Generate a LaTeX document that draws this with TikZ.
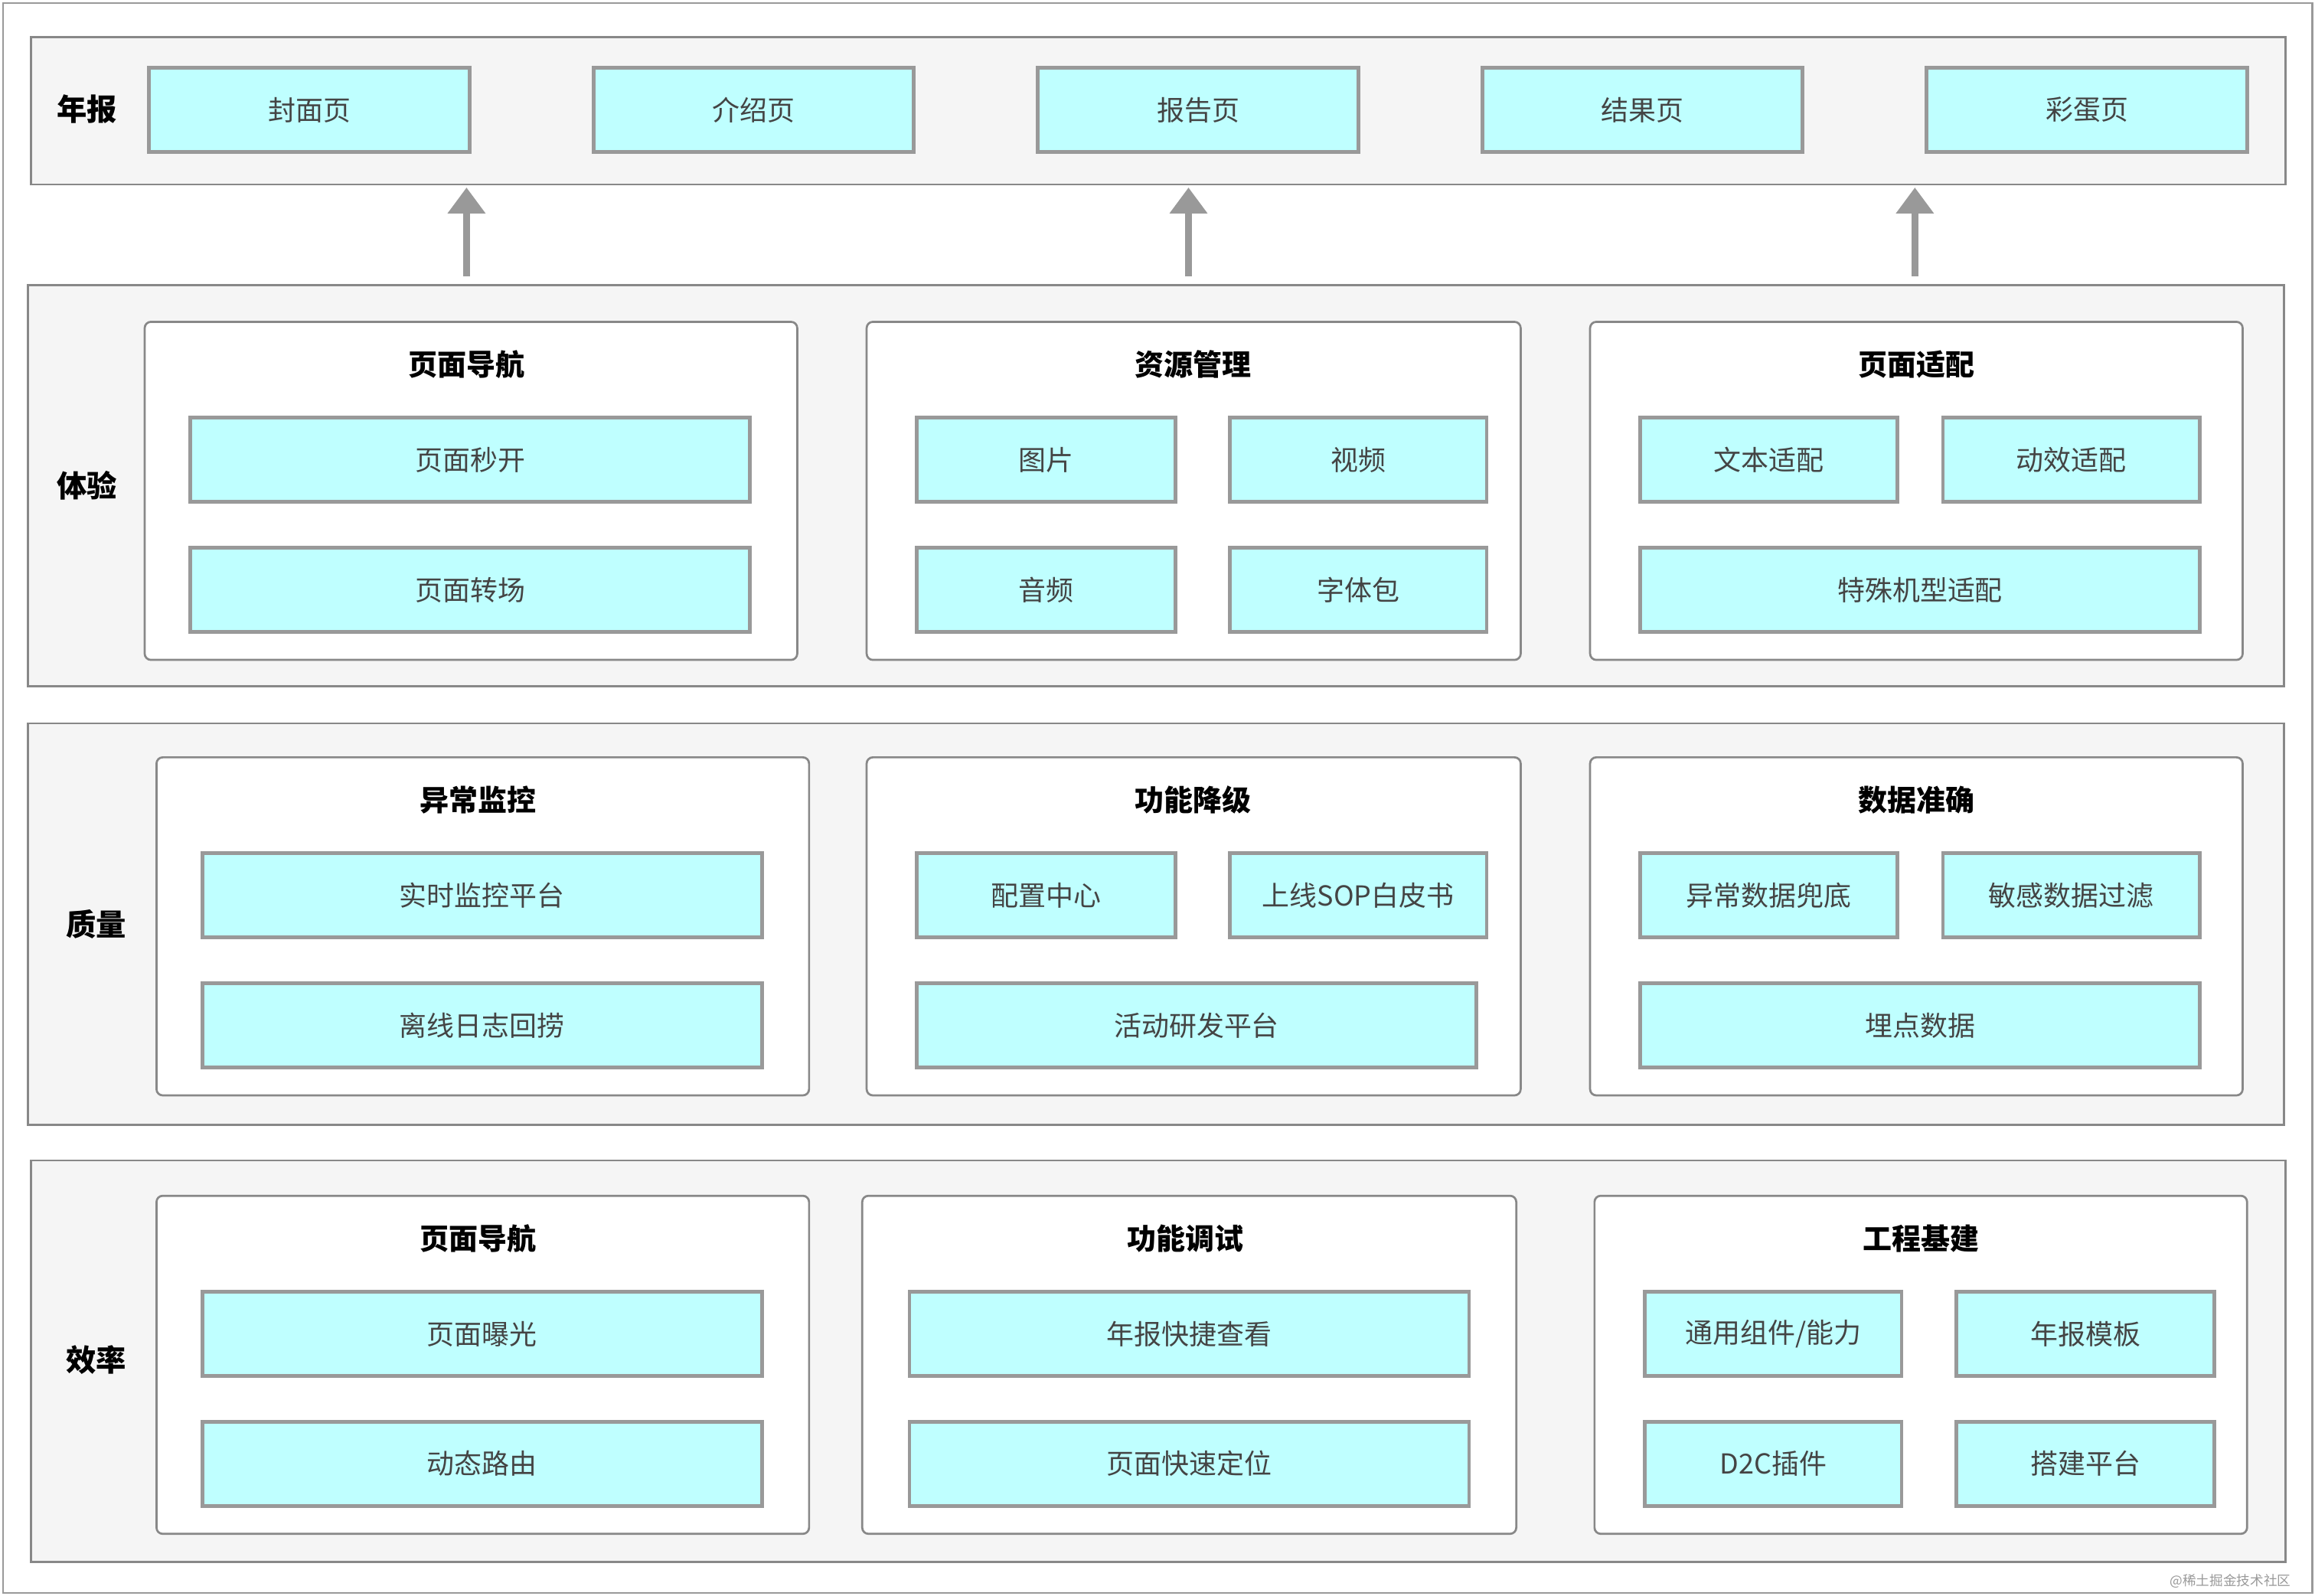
\documentclass[tikz,border=0pt]{standalone}
\usepackage{fontspec}
\setmainfont{Noto Sans CJK SC}
\usetikzlibrary{arrows.meta}

\definecolor{cellfill}{HTML}{BFFFFF}
\definecolor{cellline}{HTML}{999999}
\definecolor{layerfill}{HTML}{F5F5F5}
\definecolor{layerline}{HTML}{888888}
\definecolor{textgray}{HTML}{444444}

\tikzset{
  cell/.style={draw=cellline,fill=cellfill,line width=0.7pt,inner sep=0pt,
    text=textgray,font=\fontsize{5.3}{6}\selectfont},
  layer/.style={draw=layerline,fill=layerfill,line width=0.4pt,inner sep=0pt},
  group/.style={draw=layerline,fill=white,rounded corners=1.2pt,line width=0.4pt,inner sep=0pt},
  grouptitle/.style={font=\fontsize{5.6}{6}\selectfont\bfseries},
  layertitle/.style={font=\fontsize{5.8}{6}\selectfont\bfseries},
  uparrow/.style={draw=cellline,line width=1.4pt,-{Triangle[length=5pt,width=7pt]}}
}

% box from corner (x1,y1) to (x2,y2), in reference pixels
\newcommand{\pixbox}[7]{%
  \node[#1,minimum width={(#5-#3)*0.01cm},minimum height={(#6-#4)*0.01cm}]
    (#2) at ({(#3+#5)/2},{(#4+#6)/2}) {#7};}

\begin{document}
\begin{tikzpicture}[x=0.01cm,y=-0.01cm]
\useasboundingbox (0,0) rectangle (1568,1081);
\draw[draw=cellline,line width=0.4pt] (2,2) rectangle (1566,1079);

% 年报
\pixbox{layer}{annual}{21}{25}{1548}{125}{}
\node[layertitle] (annualT) at (59,74) {年报};
\pixbox{cell}{cover}{101}{46}{318}{103}{封面页}
\pixbox{cell}{intro}{402}{46}{619}{103}{介绍页}
\pixbox{cell}{report}{703}{46}{920}{103}{报告页}
\pixbox{cell}{result}{1004}{46}{1221}{103}{结果页}
\pixbox{cell}{egg}{1305}{46}{1522}{103}{彩蛋页}

% arrows
\coordinate (a1s) at (316,187); \coordinate (a1e) at (316,127);
\coordinate (a2s) at (805,187); \coordinate (a2e) at (805,127);
\coordinate (a3s) at (1297,187); \coordinate (a3e) at (1297,127);
\draw[uparrow] (a1s) -- (a1e);
\draw[uparrow] (a2s) -- (a2e);
\draw[uparrow] (a3s) -- (a3e);

% 体验
\pixbox{layer}{exp}{19}{193}{1547}{465}{}
\node[layertitle] (expT) at (59,329) {体验};
\pixbox{group}{nav}{98}{218}{540}{447}{}
\node[grouptitle] (navT) at (316,247) {页面导航};
\pixbox{cell}{fastopen}{129}{283}{508}{340}{页面秒开}
\pixbox{cell}{transit}{129}{371}{508}{428}{页面转场}
\pixbox{group}{res}{587}{218}{1030}{447}{}
\node[grouptitle] (resT) at (808,247) {资源管理};
\pixbox{cell}{img}{621}{283}{796}{340}{图片}
\pixbox{cell}{video}{833}{283}{1007}{340}{视频}
\pixbox{cell}{audio}{621}{371}{796}{428}{音频}
\pixbox{cell}{fontpkg}{833}{371}{1007}{428}{字体包}
\pixbox{group}{adapt}{1077}{218}{1519}{447}{}
\node[grouptitle] (adaptT) at (1298,247) {页面适配};
\pixbox{cell}{txtad}{1111}{283}{1285}{340}{文本适配}
\pixbox{cell}{animad}{1316}{283}{1490}{340}{动效适配}
\pixbox{cell}{devad}{1111}{371}{1490}{428}{特殊机型适配}

% 质量
\pixbox{layer}{qual}{19}{490}{1547}{762}{}
\node[layertitle] (qualT) at (65,626) {质量};
\pixbox{group}{mon}{106}{513}{548}{742}{}
\node[grouptitle] (monT) at (324,542) {异常监控};
\pixbox{cell}{rtmon}{137}{578}{516}{635}{实时监控平台}
\pixbox{cell}{offlog}{137}{666}{516}{723}{离线日志回捞}
\pixbox{group}{degr}{587}{513}{1030}{742}{}
\node[grouptitle] (degrT) at (808,542) {功能降级};
\pixbox{cell}{cfg}{621}{578}{796}{635}{配置中心}
\pixbox{cell}{sop}{833}{578}{1007}{635}{上线SOP白皮书}
\pixbox{cell}{actdev}{621}{666}{1000}{723}{活动研发平台}
\pixbox{group}{data}{1077}{513}{1519}{742}{}
\node[grouptitle] (dataT) at (1298,542) {数据准确};
\pixbox{cell}{fallback}{1111}{578}{1285}{635}{异常数据兜底}
\pixbox{cell}{filter}{1316}{578}{1490}{635}{敏感数据过滤}
\pixbox{cell}{track}{1111}{666}{1490}{723}{埋点数据}

% 效率
\pixbox{layer}{eff}{21}{786}{1548}{1058}{}
\node[layertitle] (effT) at (65,921) {效率};
\pixbox{group}{nav2}{106}{810}{548}{1039}{}
\node[grouptitle] (nav2T) at (324,839) {页面导航};
\pixbox{cell}{expose}{137}{875}{516}{932}{页面曝光}
\pixbox{cell}{route}{137}{963}{516}{1020}{动态路由}
\pixbox{group}{debug}{584}{810}{1027}{1039}{}
\node[grouptitle] (debugT) at (803,839) {功能调试};
\pixbox{cell}{quick}{616}{875}{995}{932}{年报快捷查看}
\pixbox{cell}{locate}{616}{963}{995}{1020}{页面快速定位}
\pixbox{group}{infra}{1080}{810}{1522}{1039}{}
\node[grouptitle] (infraT) at (1301,839) {工程基建};
\pixbox{cell}{comp}{1114}{875}{1288}{932}{通用组件/能力}
\pixbox{cell}{tmpl}{1325}{875}{1500}{932}{年报模板}
\pixbox{cell}{dtc}{1114}{963}{1288}{1020}{D2C插件}
\pixbox{cell}{build}{1325}{963}{1500}{1020}{搭建平台}

\node[text=cellline,font=\fontsize{2.6}{3}\selectfont,anchor=east] (mark) at (1564,1071) {@稀土掘金技术社区};
\end{tikzpicture}
\end{document}
